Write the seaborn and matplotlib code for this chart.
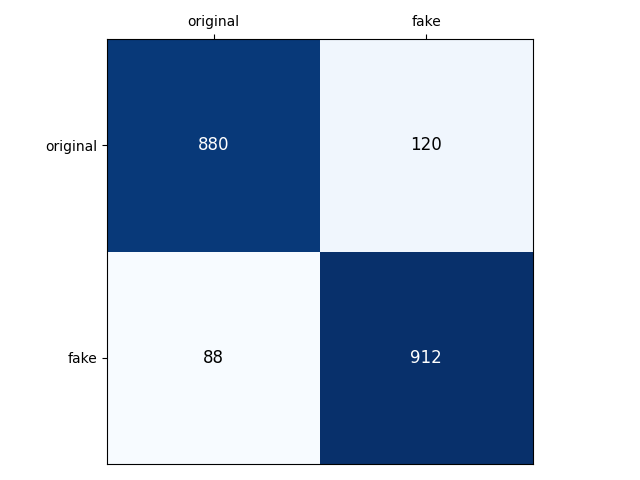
import matplotlib
matplotlib.use("Agg")
import matplotlib.pyplot as plt
import seaborn as sns
import numpy as np
import pandas as pd

# confusion matrix values
labels = ["original", "fake"]
row_original = [880, 120]
row_fake = [88, 912]

cm = pd.DataFrame([row_original, row_fake], index=labels, columns=labels)

fig = plt.figure(figsize=(6.4, 4.8), dpi=100)
ax = fig.add_axes([107 / 640, 16 / 480, 426 / 640, 425 / 480])

sns.heatmap(cm, ax=ax, cmap="Blues", cbar=False, annot=False, square=True)

# annotate cells, white text on dark cells
vals = cm.values
thresh = (vals.max() + vals.min()) / 2
for i in range(vals.shape[0]):
    for j in range(vals.shape[1]):
        c = "white" if vals[i, j] > thresh else "black"
        ax.text(j + 0.5, i + 0.5, str(vals[i, j]), ha="center", va="center",
                color=c, fontsize=12)

for s in ax.spines.values():
    s.set_visible(True)
    s.set_color("black")
    s.set_linewidth(0.8)

ax.xaxis.tick_top()
ax.tick_params(axis="x", top=True, bottom=False, length=3.5, labelsize=10)
ax.tick_params(axis="y", left=True, length=3.5, labelsize=10)
ax.set_xticklabels(labels, rotation=0)
ax.set_yticklabels(labels, rotation=0, va="center_baseline")
ax.set_xlabel("")
ax.set_ylabel("")

fig.savefig("out.png", dpi=100)
